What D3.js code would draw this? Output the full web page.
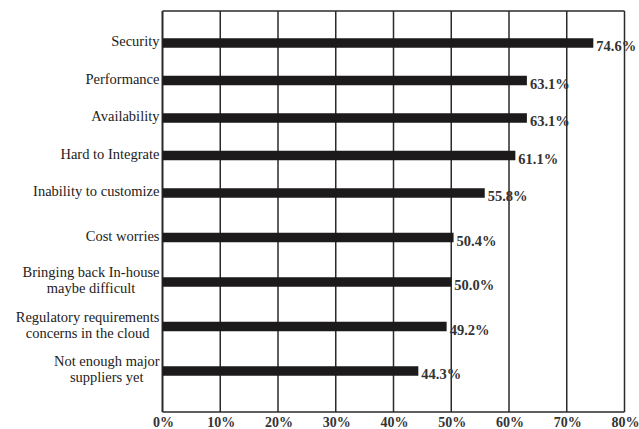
<!DOCTYPE html>
<html><head><meta charset="utf-8">
<script src="https://cdn.jsdelivr.net/npm/d3@7"></script>
<style>body{margin:0;background:#fff}svg{display:block}</style>
</head><body>
<svg id="c" width="639" height="429"></svg>
<script>
const categories = [
  ["Security"],
  ["Performance"],
  ["Availability"],
  ["Hard to Integrate"],
  ["Inability to customize"],
  ["Cost worries"],
  ["Bringing back In-house", "maybe difficult"],
  ["Regulatory requirements", "concerns in the cloud"],
  ["Not enough major", "suppliers yet"]
];
const values = [74.6, 63.1, 63.1, 61.1, 55.8, 50.4, 50.0, 49.2, 44.3];
const ticks = [0, 10, 20, 30, 40, 50, 60, 70, 80];

const svg = d3.select("#c");
const FONT = '"Liberation Serif"';
const L = 162.5, R = 624.5, T = 11, B = 412;
const x = d3.scaleLinear().domain([0, 80]).range([L, R]);
// category position scale (piecewise, follows the reference's spacing)
const n = categories.length;
const y = d3.scaleLinear().domain([0, 4, n - 1]).range([43, 193, 371]);
const lineColor = "#2a2a2a";

// gridlines
svg.append("g").selectAll("line").data(ticks).join("line")
  .attr("x1", d => x(d)).attr("x2", d => x(d))
  .attr("y1", T).attr("y2", B)
  .attr("stroke", lineColor).attr("stroke-width", d => d === 0 ? 2 : 1.5);
svg.append("line").attr("x1", L).attr("x2", R).attr("y1", T).attr("y2", T)
  .attr("stroke", lineColor).attr("stroke-width", 1.5);
svg.append("line").attr("x1", L).attr("x2", R).attr("y1", B).attr("y2", B)
  .attr("stroke", lineColor).attr("stroke-width", 1.5);

// bars
const bh = 9.5;
svg.append("g").selectAll("rect").data(values).join("rect")
  .attr("x", x(0)).attr("width", d => x(d) - x(0))
  .attr("y", (d, i) => y(i) - bh / 2)
  .attr("height", bh)
  .attr("fill", "#1c1a1a");

// value labels
svg.append("g").selectAll("text").data(values).join("text")
  .attr("x", d => x(d) + 3)
  .attr("y", (d, i) => y(i) + 8)
  .style("font-family", FONT).style("font-weight", "bold")
  .style("font-size", "14.5px").attr("fill", "#333")
  .text(d => d.toFixed(1) + "%");

// category labels
const catG = svg.append("g");
categories.forEach((lines, i) => {
  const cy = y(i);
  const t = catG.append("text")
    .style("font-family", FONT).style("font-size", "14.5px").attr("fill", "#222")
    .attr("text-anchor", "middle");
  const lh = 16;
  const y0 = cy - (lines.length - 1) * lh / 2 + 3;
  lines.forEach((s, j) => {
    t.append("tspan").attr("y", y0 + j * lh).text(s);
  });
  let maxW = 0;
  t.selectAll("tspan").each(function () {
    maxW = Math.max(maxW, this.getComputedTextLength());
  });
  t.selectAll("tspan").attr("x", 159.5 - maxW / 2);
});

// tick labels
svg.append("g").selectAll("text").data(ticks).join("text")
  .attr("x", d => x(d) + 1).attr("y", 426.5)
  .attr("text-anchor", "middle")
  .style("font-family", FONT).style("font-weight", "bold")
  .style("font-size", "14px").attr("fill", "#333")
  .text(d => d + "%");
</script>
</body></html>
